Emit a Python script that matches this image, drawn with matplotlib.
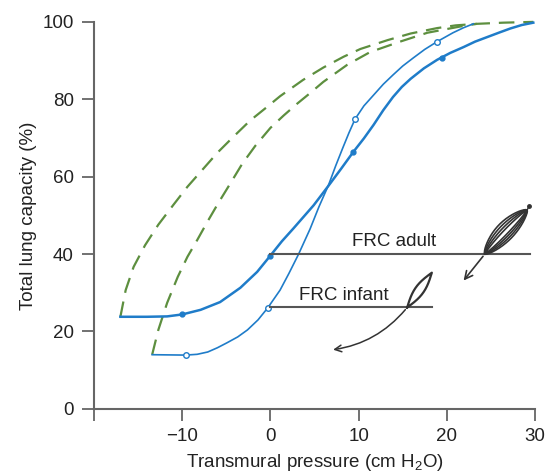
import numpy as np
import matplotlib
matplotlib.use('Agg')
import matplotlib.pyplot as plt
from matplotlib.patches import FancyArrowPatch

plt.rcParams['font.family'] = ['Liberation Sans', 'DejaVu Sans']
plt.rcParams['mathtext.default'] = 'regular'

# adult inflation limb (blue, filled dots)
adult_x = [-17, -14, -11.7, -10, -7.9, -5.7, -3.4, -1.5, 0, 1.3, 2.6, 4.9, 6.6,
           8.0, 9.4, 10.6, 11.7, 12.8, 13.9, 14.9, 15.9, 17.4, 18.9, 20.4, 21.9,
           23.2, 24.6, 26.0, 27.2, 28.5, 29.8]
adult_y = [23.8, 23.8, 23.9, 24.4, 25.6, 27.6, 31.3, 35.4, 39.6, 43.3, 46.6, 52.6,
           57.7, 62.0, 66.4, 69.9, 73.4, 77.2, 80.6, 83.2, 85.3, 88.0, 90.2, 92.0,
           93.5, 94.9, 96.1, 97.3, 98.3, 99.2, 99.8]
adult_dot_x = [-10, 0, 9.4, 19.5]
adult_dot_y = [24.5, 39.6, 66.4, 90.7]

# infant inflation limb (blue, open dots)
infant_x = [-13.4, -9.6, -8.3, -7.1, -6.0, -4.9, -3.7, -2.6, -1.4, -0.3, 1.1, 2.1,
            3.2, 3.9, 4.5, 5.5, 6.6, 7.4, 8.2, 8.9, 9.6, 10.6, 11.7, 12.8, 13.9,
            15.0, 16.2, 17.5, 18.9, 20.7, 21.9, 23.0]
infant_y = [14.0, 13.9, 14.1, 14.7, 15.8, 17.1, 18.6, 20.4, 23.0, 26.1, 30.7, 35.0,
            40.0, 43.5, 46.5, 52.2, 57.9, 62.8, 67.4, 71.3, 74.9, 78.3, 81.1, 83.9,
            86.3, 88.6, 90.7, 92.9, 94.9, 97.2, 98.5, 99.5]
infant_dot_x = [-9.6, -0.3, 9.6, 18.9]
infant_dot_y = [13.9, 26.1, 74.9, 94.9]

# deflation limbs (green dashed)
adult_def_x = [-17, -16.4, -15.5, -14.2, -12.7, -11, -9.4, -7.7, -6, -4.2, -2.3,
               -0.5, 1.1, 3.7, 6.0, 8.3, 10.2, 13.3, 15.9, 18.9, 21.0, 23.4, 26.4,
               29.8]
adult_def_y = [23.8, 30.7, 36.7, 42.3, 47.6, 52.7, 57.4, 61.8, 66.2, 70.3, 74.5,
               77.8, 80.8, 85.0, 88.2, 91.0, 93.0, 95.3, 97.0, 98.4, 99.1, 99.5,
               99.8, 100]
infant_def_x = [-13.4, -12.7, -11.7, -10.5, -9.4, -8.3, -7.1, -5.9, -4.5, -3.2,
                -1.7, 0, 1.5, 3.0, 4.5, 6.0, 8.7, 11.3, 14.7, 17.8, 21.5, 23.4]
infant_def_y = [14, 20.4, 27.4, 34.1, 39.3, 43.6, 48.5, 53.2, 58.4, 63.3, 68.0,
                72.6, 75.8, 78.8, 81.6, 84.5, 88.9, 92.2, 94.9, 97.2, 98.8, 99.5]

# FRC levels and tidal loops
frc_adult = 40
frc_infant = 26.2
frc_adult_end = 29.4
frc_infant_end = 18.3
adult_loop = [(24.3, 40.0), (29.1, 51.4)]
adult_loop_widths = [2.5, 5, 7.5, 10]
infant_loop = [(15.5, 26.2), (18.3, 35.2)]
infant_loop_widths = [4.5]

blue = '#1f7cc9'
green = '#5d8f3f'
dark = '#333333'

fig = plt.figure(figsize=(5.46, 4.76), dpi=100)
ax = fig.add_axes([0.172, 0.141, 0.808, 0.813])
ax.set_xlim(-20, 30)
ax.set_ylim(0, 100)

# pixel size of one data unit, used to draw the loops
sx = 0.808 * 546 / 50.0
sy = 0.813 * 476 / 100.0


def leaf(p0, p1, w, k_left=1.0, k_right=0.8, p=0.65):
    x0, y0 = p0[0] * sx, p0[1] * sy
    x1, y1 = p1[0] * sx, p1[1] * sy
    dx, dy = x1 - x0, y1 - y0
    L = np.hypot(dx, dy)
    nx, ny = -dy / L, dx / L
    t = np.linspace(0, 1, 80)
    s = np.sin(np.pi * t) ** p
    ax_ = x0 + t * dx + nx * w * k_left * s
    ay_ = y0 + t * dy + ny * w * k_left * s
    bx_ = x0 + t * dx - nx * w * k_right * s
    by_ = y0 + t * dy - ny * w * k_right * s
    xs = np.concatenate([ax_, bx_[::-1]]) / sx
    ys = np.concatenate([ay_, by_[::-1]]) / sy
    return xs, ys


ax.plot(adult_def_x, adult_def_y, color=green, lw=1.6, dashes=(7, 4),
        clip_on=False)
ax.plot(infant_def_x, infant_def_y, color=green, lw=1.6, dashes=(7, 4),
        clip_on=False)

ax.plot(adult_x, adult_y, color=blue, lw=1.8, clip_on=False)
ax.plot(adult_dot_x, adult_dot_y, 'o', color=blue, ms=3.5, clip_on=False)
ax.plot(infant_x, infant_y, color=blue, lw=1.2, clip_on=False)
ax.plot(infant_dot_x, infant_dot_y, 'o', mfc='white', mec=blue, mew=1.0,
        ms=4, clip_on=False)

ax.plot([0, frc_adult_end], [frc_adult, frc_adult], color='#555555', lw=1.5)
ax.plot([0, frc_infant_end], [frc_infant, frc_infant], color='#555555', lw=1.5)
ax.text(14.0, 41.0, 'FRC adult', ha='center', va='bottom', fontsize=13.5,
        color='#222222')
ax.text(8.3, 27.1, 'FRC infant', ha='center', va='bottom', fontsize=13.5,
        color='#222222')

for w in adult_loop_widths:
    lx, ly = leaf(adult_loop[0], adult_loop[1], w)
    ax.plot(lx, ly, color=dark, lw=1.2)
ax.plot([adult_loop[1][0], 29.3], [adult_loop[1][1], 52.3], color=dark, lw=1)
ax.plot([29.3], [52.3], 'o', color=dark, ms=2.5)
for w in infant_loop_widths:
    lx, ly = leaf(infant_loop[0], infant_loop[1], w, 1.0, 1.0, 1.0)
    ax.plot(lx, ly, color=dark, lw=1.6)

ax.add_patch(FancyArrowPatch(adult_loop[0], (21.7, 32.6), arrowstyle='->',
                             mutation_scale=14, color=dark, lw=1.2))
ax.add_patch(FancyArrowPatch(infant_loop[0], (6.8, 15.2), arrowstyle='->',
                             connectionstyle='arc3,rad=-0.2',
                             mutation_scale=12, color=dark, lw=1.1))

for side in ['top', 'right']:
    ax.spines[side].set_visible(False)
for side in ['left', 'bottom']:
    ax.spines[side].set_color('#666666')
    ax.spines[side].set_linewidth(1.5)

ax.set_xticks([-20, -10, 0, 10, 20, 30])
ax.set_xticklabels(['', '\u221210', '0', '10', '20', '30'])
ax.set_yticks([0, 20, 40, 60, 80, 100])
ax.tick_params(direction='out', length=8.5, width=1.3, color='#666666',
               labelsize=13.5, labelcolor='#222222')
ax.tick_params(axis='x', pad=5.5)
ax.tick_params(axis='y', pad=6)
ax.set_xlabel('Transmural pressure (cm H$_2$O)', fontsize=13.5, color='#222222',
              labelpad=5)
ax.set_ylabel('Total lung capacity (%)', fontsize=13.5, color='#222222',
              labelpad=4)

fig.savefig('out.png', dpi=100)
